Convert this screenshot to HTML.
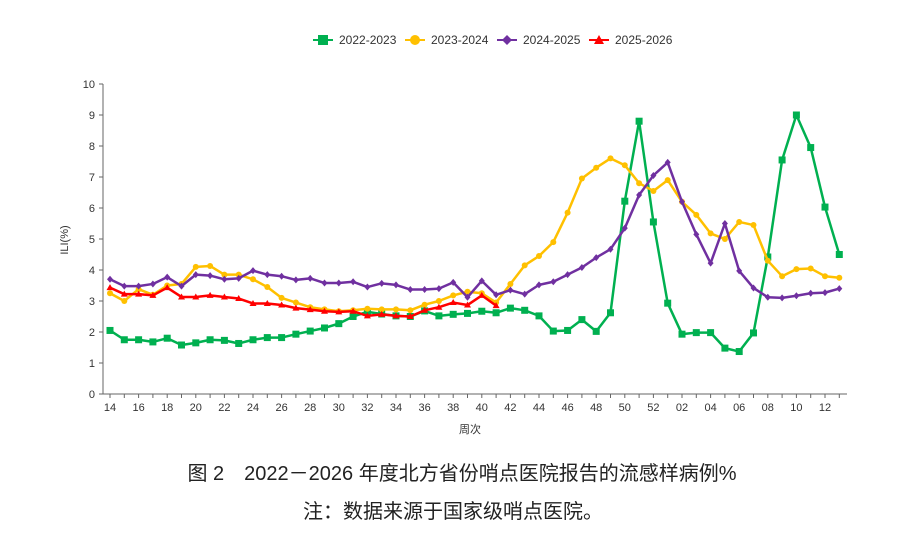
<!DOCTYPE html>
<html><head><meta charset="utf-8"><style>
body{margin:0;background:#fff;width:900px;height:536px;overflow:hidden}
svg text{font-family:"Liberation Sans","Noto Sans CJK SC",sans-serif}
</style></head><body>
<svg id="c" width="900" height="536" xmlns="http://www.w3.org/2000/svg">
<g font-size="12" fill="#333">
<line x1="313" y1="40" x2="333" y2="40" stroke="#00b050" stroke-width="2"/><rect x="318" y="35" width="10" height="10" fill="#00b050"/><text x="339" y="44">2022-2023</text>
<line x1="405" y1="40" x2="425" y2="40" stroke="#ffc000" stroke-width="2"/><circle cx="415" cy="40" r="5" fill="#ffc000"/><text x="431" y="44">2023-2024</text>
<line x1="497" y1="40" x2="517" y2="40" stroke="#7030a0" stroke-width="2"/><path d="M507 35 L512 40 L507 45 L502 40Z" fill="#7030a0"/><text x="523" y="44">2024-2025</text>
<line x1="589" y1="40" x2="609" y2="40" stroke="#ff0000" stroke-width="2"/><path d="M599 35 L604 44 L594 44Z" fill="#ff0000"/><text x="615" y="44">2025-2026</text>
</g>
<g id="ax"></g>
<g id="ser"></g>
<text x="68" y="240" font-size="11" fill="#333" transform="rotate(-90 68 240)" text-anchor="middle">ILI(%)</text>
<text x="470" y="433" font-size="11" fill="#333" text-anchor="middle">周次</text>
<text x="462" y="480" font-size="20" fill="#222" text-anchor="middle">图 2　2022－2026 年度北方省份哨点医院报告的流感样病例%</text>
<text x="453" y="518" font-size="20" fill="#222" text-anchor="middle">注：数据来源于国家级哨点医院。</text>
</svg>
<script>
var X0=110,DX=14.3,Y0=394,DY=31;
function X(i){return X0+i*DX}function Y(v){return Y0-v*DY}
var ns="http://www.w3.org/2000/svg",ax=document.getElementById('ax'),ser=document.getElementById('ser');
function el(t,a,p){var e=document.createElementNS(ns,t);for(var k in a)e.setAttribute(k,a[k]);(p||ax).appendChild(e);return e}
el('line',{x1:103,y1:84,x2:103,y2:394,stroke:'#666'});
el('line',{x1:103,y1:394,x2:847,y2:394,stroke:'#666'});
for(var v=0;v<=10;v++){el('line',{x1:99,y1:Y(v),x2:103,y2:Y(v),stroke:'#666'});var t=el('text',{x:95,y:Y(v)+4,'font-size':11,fill:'#333','text-anchor':'end'});t.textContent=v;}
for(var i=0;i<52;i++){el('line',{x1:X(i),y1:394,x2:X(i),y2:398,stroke:'#666'});if(i%2==0){var w=i<39?14+i:i-38;var t=el('text',{x:X(i),y:411,'font-size':11,fill:'#333','text-anchor':'middle'});t.textContent=(w<10?'0':'')+w;}}
var S=[
['#00b050','sq',[2.05,1.75,1.75,1.68,1.8,1.58,1.65,1.75,1.73,1.63,1.75,1.82,1.82,1.93,2.03,2.13,2.27,2.5,2.65,2.58,2.52,2.5,2.68,2.52,2.57,2.6,2.67,2.62,2.77,2.7,2.52,2.03,2.05,2.4,2.02,2.62,6.22,8.8,5.55,2.93,1.93,1.98,1.98,1.48,1.37,1.97,4.42,7.55,9.0,7.95,6.03,4.5]],
['#ffc000','ci',[3.25,3.0,3.38,3.2,3.5,3.55,4.1,4.13,3.85,3.85,3.7,3.45,3.1,2.95,2.8,2.73,2.67,2.7,2.75,2.73,2.73,2.7,2.88,3.0,3.18,3.3,3.25,2.95,3.55,4.15,4.45,4.9,5.85,6.95,7.3,7.6,7.38,6.8,6.55,6.9,6.2,5.78,5.18,5.0,5.55,5.45,4.3,3.8,4.03,4.05,3.8,3.75]],
['#7030a0','di',[3.7,3.48,3.48,3.55,3.77,3.48,3.85,3.82,3.7,3.73,3.98,3.85,3.8,3.68,3.73,3.58,3.58,3.62,3.45,3.57,3.52,3.37,3.37,3.4,3.6,3.12,3.65,3.2,3.35,3.22,3.52,3.62,3.85,4.08,4.4,4.67,5.35,6.42,7.05,7.47,6.2,5.15,4.22,5.5,3.97,3.42,3.12,3.1,3.17,3.25,3.27,3.4]],
['#ff0000','tr',[3.43,3.22,3.22,3.18,3.43,3.13,3.13,3.18,3.13,3.08,2.92,2.92,2.87,2.77,2.72,2.67,2.65,2.67,2.52,2.57,2.52,2.5,2.7,2.8,2.95,2.87,3.18,2.85]]];
S.forEach(function(s){var c=s[0],d=s[2];el('polyline',{points:d.map(function(v,i){return X(i)+','+Y(v)}).join(' '),fill:'none',stroke:c,'stroke-width':2.5,'stroke-linejoin':'round'},ser);
d.forEach(function(v,i){var x=X(i),y=Y(v);if(s[1]=='sq')el('rect',{x:x-3.5,y:y-3.5,width:7,height:7,fill:c},ser);else if(s[1]=='ci')el('circle',{cx:x,cy:y,r:3,fill:c},ser);else if(s[1]=='di')el('path',{d:'M'+x+' '+(y-3.5)+'L'+(x+3)+' '+y+'L'+x+' '+(y+3.5)+'L'+(x-3)+' '+y+'Z',fill:c},ser);else el('path',{d:'M'+x+' '+(y-3.5)+'L'+(x+3.5)+' '+(y+2.5)+'L'+(x-3.5)+' '+(y+2.5)+'Z',fill:c},ser);});});
</script>
</body></html>
